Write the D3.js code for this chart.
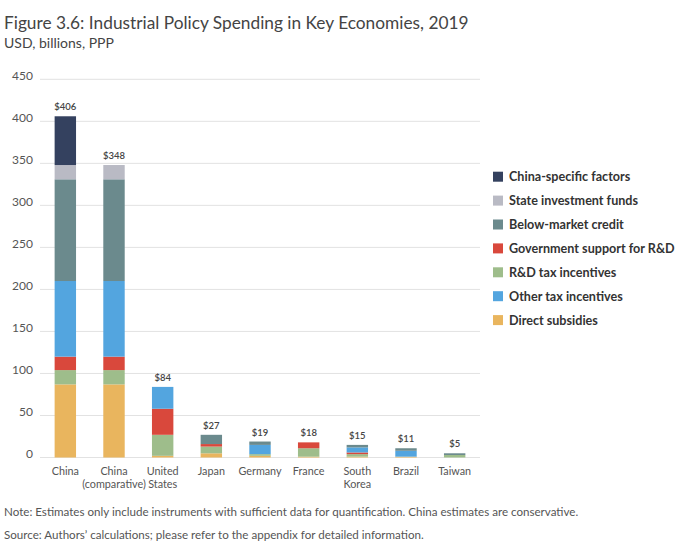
<!DOCTYPE html>
<html><head><meta charset="utf-8">
<script src="https://cdnjs.cloudflare.com/ajax/libs/d3/7.8.5/d3.min.js"></script>
<style>
body{margin:0;background:#fff;}
text{font-family:Lato,"Noto Sans",sans-serif;}
</style></head>
<body><svg id="c" width="690" height="550"></svg>
<script>
const categories = ["China","China (comparative)","United States","Japan","Germany","France","South Korea","Brazil","Taiwan"];
const categoryLines = [["China"],["China","(comparative)"],["United","States"],["Japan"],["Germany"],["France"],["South","Korea"],["Brazil"],["Taiwan"]];
// stack order bottom -> top
const stackOrder = ["Direct subsidies","R&D tax incentives","Government support for R&D","Other tax incentives","Below-market credit","State investment funds","China-specific factors"];
const directSubsidies   = [87, 87, 2, 5, 2, 1, 1, 1, 0];
const rdTaxIncentives   = [17, 17, 25, 8, 2, 10, 3, 0, 3];
const govSupportRD      = [16, 16, 31, 3, 0, 7, 2, 0, 0];
const otherTaxIncent    = [90, 90, 26, 0, 11, 0, 6, 7, 0];
const belowMarketCredit = [121, 121, 0, 11, 4, 0, 3, 3, 2];
const stateInvestFunds  = [17, 17, 0, 0, 0, 0, 0, 0, 0];
const chinaSpecific     = [58, 0, 0, 0, 0, 0, 0, 0, 0];
const totalLabels = ["$406","$348","$84","$27","$19","$18","$15","$11","$5"];
const yTicks = [0,50,100,150,200,250,300,350,400,450];
const legendOrder = ["China-specific factors","State investment funds","Below-market credit","Government support for R&D","R&D tax incentives","Other tax incentives","Direct subsidies"];
const colors = {
  "China-specific factors":"#34415f",
  "State investment funds":"#b9bac4",
  "Below-market credit":"#6b8a8d",
  "Government support for R&D":"#d9483c",
  "R&D tax incentives":"#9ebd8b",
  "Other tax incentives":"#53a5df",
  "Direct subsidies":"#e9b55e"
};
const seriesValues = {
  "Direct subsidies":directSubsidies,
  "R&D tax incentives":rdTaxIncentives,
  "Government support for R&D":govSupportRD,
  "Other tax incentives":otherTaxIncent,
  "Below-market credit":belowMarketCredit,
  "State investment funds":stateInvestFunds,
  "China-specific factors":chinaSpecific
};

const rows = categories.map((c,i)=>{const r={cat:c,i:i};stackOrder.forEach(s=>r[s]=seriesValues[s][i]);return r;});
const svg = d3.select("#c");
const x = d3.scaleBand().domain(categories).range([41,479]).paddingInner(0.56).paddingOuter(0.28);
const y = d3.scaleLinear().domain([0,450]).range([457.5,79.3]);

// title
svg.append("text").attr("x",4).attr("y",29).attr("font-size",17.3).attr("fill","#444").text("Figure 3.6: Industrial Policy Spending in Key Economies, 2019");
svg.append("text").attr("x",4).attr("y",48).attr("font-size",14).attr("fill","#444").text("USD, billions, PPP");

// grid
const g = svg.append("g");
g.selectAll("line.grid").data(yTicks).join("line")
 .attr("x1",40).attr("x2",480).attr("y1",d=>y(d)).attr("y2",d=>y(d))
 .attr("stroke","#e2e2e2").attr("stroke-width",1);
g.selectAll("text.yt").data(yTicks).join("text")
 .attr("x",33).attr("y",d=>y(d)+0.5).attr("text-anchor","end").attr("font-size",12).attr("fill","#555").text(d=>d);

const stack = d3.stack().keys(stackOrder)(rows);
svg.append("g").selectAll("g").data(stack).join("g").attr("fill",d=>colors[d.key])
 .selectAll("rect").data(d=>d).join("rect")
 .attr("x",d=>x(d.data.cat)).attr("width",x.bandwidth())
 .attr("y",d=>y(d[1])).attr("height",d=>Math.max(0,y(d[0])-y(d[1])));

const totals = rows.map(r=>d3.sum(stackOrder,s=>r[s]));
svg.append("g").selectAll("text").data(categories).join("text")
 .attr("x",d=>x(d)+x.bandwidth()/2).attr("y",(d,i)=>y(totals[i])-6)
 .attr("text-anchor","middle").attr("font-size",9.5).attr("font-weight",600).attr("fill","#444")
 .text((d,i)=>totalLabels[i]);

const xl = svg.append("g").selectAll("text").data(categories).join("text")
 .attr("x",d=>x(d)+x.bandwidth()/2).attr("y",475).attr("text-anchor","middle").attr("font-size",10.8).attr("fill","#555");
xl.selectAll("tspan").data((d,i)=>categoryLines[i]).join("tspan")
 .attr("x",function(){return this.parentNode.getAttribute("x");}).attr("dy",(d,i)=>i===0?0:13).text(d=>d);

const leg = svg.append("g").selectAll("g").data(legendOrder).join("g")
 .attr("transform",(d,i)=>`translate(493,${176.7+i*23.9})`);
leg.append("rect").attr("x",0).attr("y",-5).attr("width",10).attr("height",10).attr("fill",d=>colors[d]);
leg.append("text").attr("x",16).attr("y",4.5).attr("font-size",12.6).attr("font-weight",700).attr("fill","#333").text(d=>d);

svg.append("text").attr("x",4).attr("y",516).attr("font-size",11.6).attr("fill","#555").text("Note: Estimates only include instruments with sufficient data for quantification. China estimates are conservative.");
svg.append("text").attr("x",4).attr("y",539).attr("font-size",11.6).attr("fill","#555").text("Source: Authors’ calculations; please refer to the appendix for detailed information.");
</script></body></html>
